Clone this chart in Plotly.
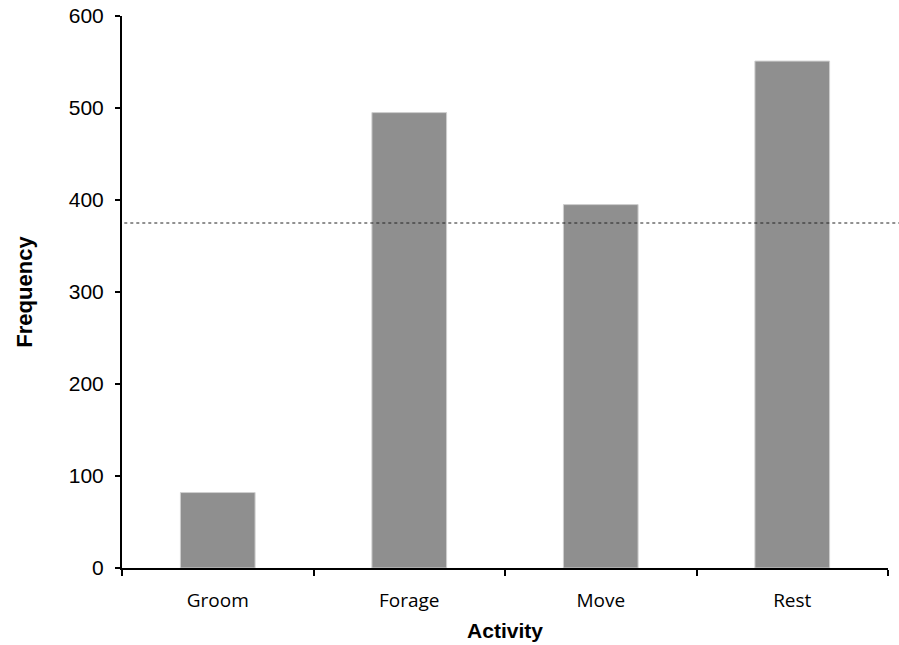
import plotly.graph_objects as go

activities = ["Groom", "Forage", "Move", "Rest"]
frequency = [82, 495, 395, 551]
expected = 375
y_ticks = [0, 100, 200, 300, 400, 500, 600]

fig = go.Figure()
fig.add_trace(go.Bar(
    x=activities, y=frequency,
    marker=dict(color="#8f8f8f", line=dict(color="#cfcfcf", width=1)),
    showlegend=False,
))

fig.add_shape(type="line", xref="paper", yref="y",
              x0=0.003, x1=1.02, y0=expected, y1=expected,
              line=dict(color="#222222", width=1, dash="dot"))

fig.update_layout(
    width=899, height=645,
    margin=dict(l=122, r=11, t=16, b=77, autoexpand=False),
    plot_bgcolor="white", paper_bgcolor="white",
    bargap=0.61,
    font=dict(family="Liberation Sans, Arial", color="black"),
)
fig.update_xaxes(
    showline=True, linecolor="black", linewidth=2,
    ticks="outside", tickson="boundaries", ticklen=6, tickwidth=2, tickcolor="black",
    tickfont=dict(family="Open Sans", size=19, color="black"),
    ticklabelstandoff=14,
    showgrid=False,
    title=dict(text="<b>Activity</b>", font=dict(family="Liberation Sans, Arial", size=21), standoff=12),
)
fig.update_yaxes(
    range=[0, 600], tickvals=y_ticks,
    showline=True, linecolor="black", linewidth=2,
    ticks="outside", ticklen=5, tickwidth=2, tickcolor="black",
    tickfont=dict(family="Liberation Sans, Arial", size=21, color="black"),
    ticklabelstandoff=7,
    showgrid=False, zeroline=False,
    title=dict(text="<b>Frequency</b>", font=dict(family="Liberation Sans, Arial", size=22), standoff=30),
)

fig.write_html("out.html", config={"displayModeBar": False},
               post_script="document.body.style.margin='0';document.body.style.overflow='hidden';")
